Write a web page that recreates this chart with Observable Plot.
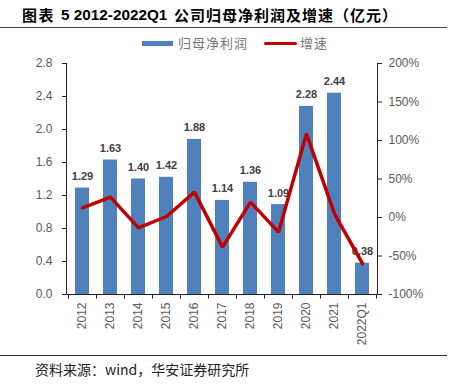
<!DOCTYPE html>
<html><head><meta charset="utf-8">
<script src="https://cdn.jsdelivr.net/npm/d3@7"></script>
<script src="https://cdn.jsdelivr.net/npm/@observablehq/plot@0.6"></script>
<style>
body{margin:0;background:#fff;width:457px;height:387px;position:relative;overflow:hidden;font-family:"Liberation Sans","Noto Sans CJK SC",sans-serif;}
.abs{position:absolute;white-space:nowrap;}
.cjk{font-family:"Noto Sans CJK SC",sans-serif;}
.t{position:absolute;top:5px;line-height:20px;color:#000;font-weight:bold;white-space:nowrap;}
</style></head><body>
<span class="t cjk" style="left:22px;font-size:15px;letter-spacing:1.5px;">图表</span>
<span class="t" style="left:61px;font-size:15.3px;font-family:'Liberation Sans',sans-serif;">5 2012-2022Q1</span>
<span class="t cjk" style="left:174px;font-size:15px;letter-spacing:1px;">公司归母净利润及增速（亿元）</span>
<div class="abs" style="left:0;top:27px;width:447px;height:1px;background:#444"></div>
<div class="abs" style="left:142px;top:41px;width:31px;height:5px;background:#4f81bd"></div>
<div class="abs cjk" style="left:178px;top:34px;font-size:13px;letter-spacing:1px;line-height:18px;color:#777">归母净利润</div>
<div class="abs" style="left:264px;top:42px;width:33px;height:3px;background:#c00000;border-radius:1.5px"></div>
<div class="abs cjk" style="left:300px;top:34px;font-size:13px;letter-spacing:1px;line-height:18px;color:#777">增速</div>
<div id="chart" class="abs" style="left:0;top:50px"></div>
<div class="abs" style="left:0;top:355px;width:447px;height:1px;background:#333"></div>
<div class="abs cjk" style="left:35px;top:360px;font-size:14px;line-height:18px;color:#222">资料来源：wind，华安证券研究所</div>
<script>
const years = ["2012","2013","2014","2015","2016","2017","2018","2019","2020","2021","2022Q1"];
const profit = [1.29,1.63,1.40,1.42,1.88,1.14,1.36,1.09,2.28,2.44,0.38];
const growth = [12.6,26.4,-13.4,1.3,32.9,-38.5,19.9,-19.0,108.7,4.8,-60.0];
const leftTicks = [0,0.4,0.8,1.2,1.6,2.0,2.4,2.8];
const rightTicks = [-100,-50,0,50,100,150,200];

const data = years.map((y,i)=>({year:y, v:profit[i], g:growth[i]}));
const g2y = g => (g + 100) / 300 * 2.8;
const y2g = y => y / 2.8 * 300 - 100;

const chart = Plot.plot({
  width: 457, height: 306,
  marginTop: 13, marginBottom: 62, marginLeft: 66, marginRight: 80,
  x: {domain: years, paddingInner: 0.5, paddingOuter: 0.25, axis: null},
  y: {domain: [0, 2.8], nice: false, axis: null},
  style: {fontFamily: "Liberation Sans, Arial, sans-serif", fontSize: "12px", color: "#595959", background: "transparent", overflow: "visible"},
  marks: [
    Plot.barY(data, {x: "year", y: "v", fill: "#4f81bd"}),
    Plot.axisY({ticks: leftTicks, tickFormat: d3.format(".1f"), tickSize: 4, tickPadding: 10, stroke: "#222", fill: "#595959", label: null}),
    Plot.axisY({anchor: "right", ticks: rightTicks.map(g2y), tickFormat: d => Math.round(y2g(d)) + "%", tickSize: 4, tickPadding: 7, stroke: "#222", fill: "#595959", label: null}),
    Plot.axisX({tickRotate: -90, tickSize: 0, tickPadding: 8, fill: "#595959", label: null}),
    Plot.text(data, {x: "year", y: "v", text: d => d.v.toFixed(2), dy: -8, lineAnchor: "bottom", fontWeight: "bold", fontSize: 11, fill: "#404040"}),
    Plot.line(data, {x: "year", y: d => g2y(d.g), stroke: "#c00000", strokeWidth: 3.5, strokeLinejoin: "miter"}),
    (index, scales, values, dims) => {
      const {width, height, marginLeft, marginRight, marginTop, marginBottom} = dims;
      const g = d3.create("svg:g").attr("stroke", "#222").attr("fill", "none");
      const xl = marginLeft + 0.5, xr = width - marginRight + 0.5, yt = marginTop, yb = height - marginBottom + 0.5;
      g.append("line").attr("x1", xl).attr("x2", xl).attr("y1", yt).attr("y2", yb);
      g.append("line").attr("x1", xr).attr("x2", xr).attr("y1", yt).attr("y2", yb);
      g.append("line").attr("x1", xl).attr("x2", xr).attr("y1", yb).attr("y2", yb);
      const x = scales.x;
      const step = x(years[1]) - x(years[0]);
      const bounds = years.map(c => x(c) - step * 0.25).concat([x(years[years.length-1]) + step * 0.75]);
      bounds.forEach(b => {
        const bx = Math.round(b) + 0.5;
        g.append("line").attr("x1", bx).attr("x2", bx).attr("y1", yb).attr("y2", yb + 4);
      });
      return g.node();
    }
  ]
});
document.getElementById("chart").appendChild(chart);
</script>
</body></html>
